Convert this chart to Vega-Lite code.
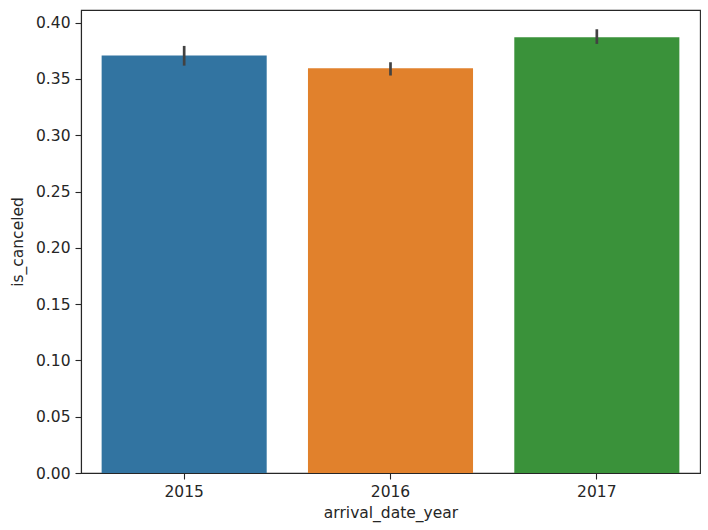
{
  "$schema": "https://vega.github.io/schema/vega-lite/v6.json",
  "width": 619,
  "height": 463,
  "autosize": {"type": "none"},
  "padding": {"left": 81, "top": 10, "right": 8, "bottom": 57},
  "background": "white",
  "config": {
    "view": {"stroke": "#262626", "strokeWidth": 1.1},
    "font": "DejaVu Sans",
    "axis": {
      "grid": false,
      "domainColor": "#262626",
      "tickColor": "#262626",
      "tickSize": 6,
      "tickWidth": 1.1,
      "domainWidth": 1.1,
      "labelFont": "DejaVu Sans",
      "titleFont": "DejaVu Sans",
      "labelFontSize": 15.5,
      "titleFontSize": 15.5,
      "labelColor": "#262626",
      "titleColor": "#262626",
      "titleFontWeight": "normal",
      "labelPadding": 5
    }
  },
  "data": {
    "values": [
      {"arrival_date_year": "2015", "is_canceled": 0.3707, "lo": 0.3618, "hi": 0.3793},
      {"arrival_date_year": "2016", "is_canceled": 0.3595, "lo": 0.3530, "hi": 0.3648},
      {"arrival_date_year": "2017", "is_canceled": 0.3870, "lo": 0.3811, "hi": 0.3941}
    ]
  },
  "encoding": {
    "x": {
      "field": "arrival_date_year",
      "type": "nominal",
      "scale": {"paddingInner": 0.2, "paddingOuter": 0.1},
      "axis": {"labelAngle": 0, "title": "arrival_date_year", "titlePadding": 6}
    }
  },
  "layer": [
    {
      "mark": {"type": "bar"},
      "encoding": {
        "y": {
          "field": "is_canceled",
          "type": "quantitative",
          "scale": {"domain": [0, 0.4112], "nice": false},
          "axis": {"values": [0, 0.05, 0.1, 0.15, 0.2, 0.25, 0.3, 0.35, 0.4], "format": ".2f", "title": "is_canceled", "titlePadding": 10}
        },
        "color": {
          "field": "arrival_date_year",
          "type": "nominal",
          "scale": {"range": ["#3274a1", "#e1812c", "#3a923a"]},
          "legend": null
        }
      }
    },
    {
      "mark": {"type": "rule", "color": "#424242", "strokeWidth": 2.7},
      "encoding": {
        "y": {"field": "lo", "type": "quantitative"},
        "y2": {"field": "hi"}
      }
    }
  ]
}
